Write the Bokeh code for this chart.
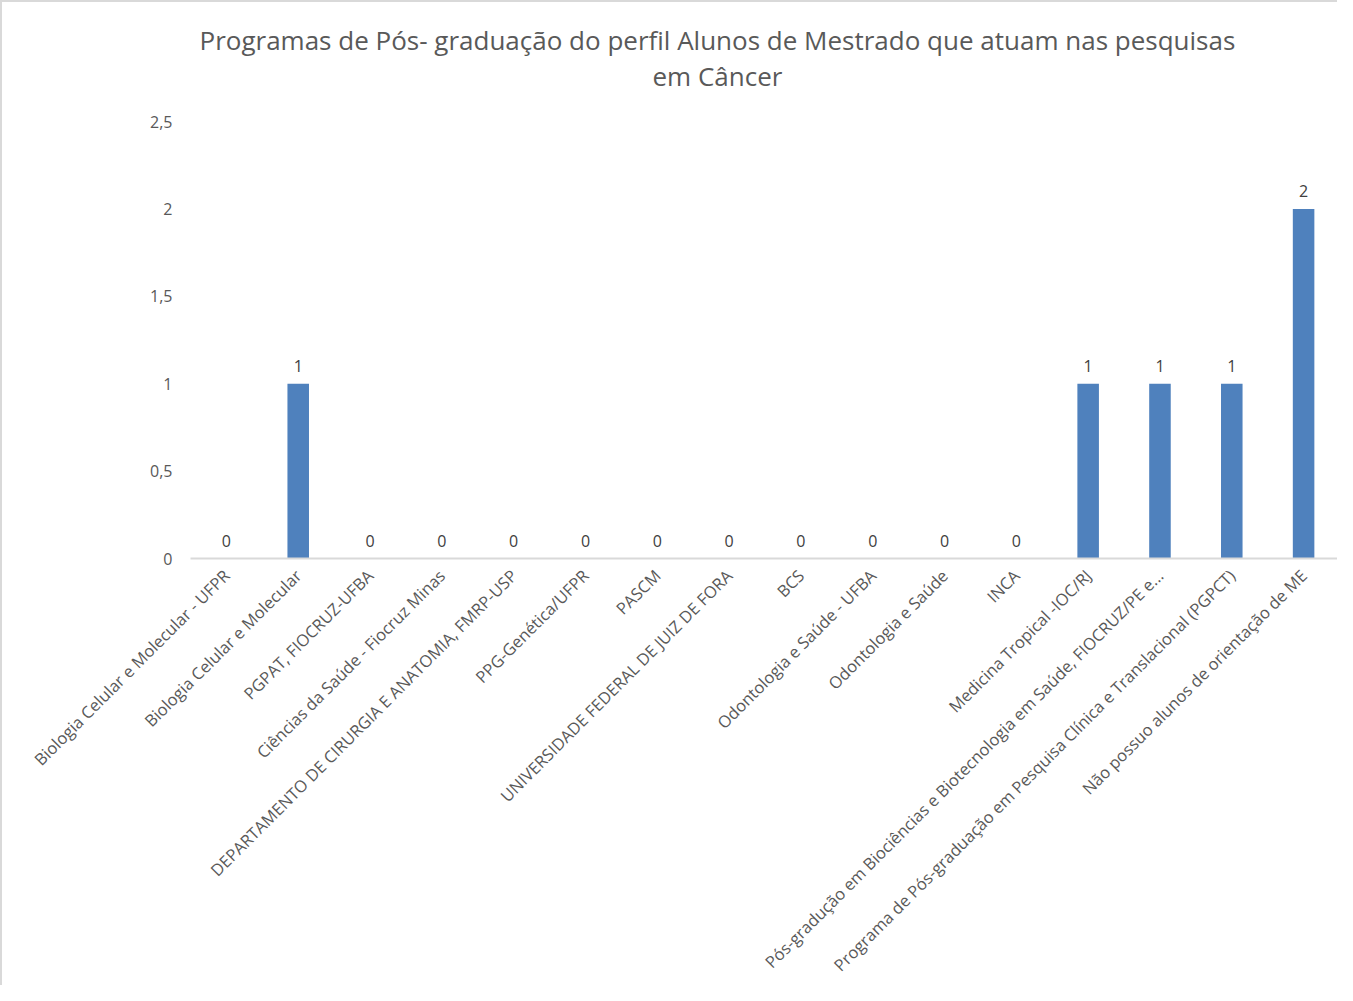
from math import pi
from bokeh.plotting import figure
from bokeh.models import ColumnDataSource, Title, FixedTicker
from bokeh.core.properties import value
from bokeh.embed import file_html
from bokeh.resources import INLINE

categories = [
    "Biologia Celular e Molecular - UFPR",
    "Biologia Celular e Molecular",
    "PGPAT, FIOCRUZ-UFBA",
    "Ciências da Saúde - Fiocruz Minas",
    "DEPARTAMENTO DE CIRURGIA E ANATOMIA, FMRP-USP",
    "PPG-Genética/UFPR",
    "PASCM",
    "UNIVERSIDADE FEDERAL DE JUIZ DE FORA",
    "BCS",
    "Odontologia e Saúde - UFBA",
    "Odontologia e Saúde",
    "INCA",
    "Medicina Tropical -IOC/RJ",
    "Pós-gradução em Biociências e Biotecnologia em Saúde, FIOCRUZ/PE e...",
    "Programa de Pós-graduação em Pesquisa Clínica e Translacional (PGPCT)",
    "Não possuo alunos de orientação de ME",
]
values = [0, 1, 0, 0, 0, 0, 0, 0, 0, 0, 0, 0, 1, 1, 1, 2]
y_ticks = [0, 0.5, 1, 1.5, 2, 2.5]
y_tick_labels = ["0", "0,5", "1", "1,5", "2", "2,5"]
title_lines = ["Programas de Pós- graduação do perfil Alunos de Mestrado que atuam nas pesquisas",
               "em Câncer"]

FONT = "Open Sans"
GRAY = "#595959"

src = ColumnDataSource(dict(cat=categories, val=values, lab=[str(v) for v in values]))

p = figure(x_range=categories, y_range=(0, 2.5), width=1337, height=985,
           output_backend="svg", toolbar_location=None,
           min_border_left=188, min_border_right=0, min_border_top=119, min_border_bottom=10)
p.title.text = ""
# spacer between plot area and title
p.add_layout(Title(text=" ", text_font_size="1px", standoff=26), "above")
p.add_layout(Title(text=title_lines[1], align="left", text_font=FONT, text_font_size="26px",
                   text_font_style="normal", text_color=GRAY, standoff=-3, offset=462), "above")
p.add_layout(Title(text=title_lines[0], align="left", text_font=FONT, text_font_size="26px",
                   text_font_style="normal", text_color=GRAY, standoff=0, offset=9), "above")

p.vbar(x="cat", top="val", width=0.3, source=src, fill_color="#4f81bd", line_color=None)
p.text(x="cat", y="val", text="lab", source=src, text_align="center", text_baseline="bottom",
       y_offset=-12, text_font=value(FONT), text_font_size="16px", text_color="#404040")

p.x_range.range_padding = 0
p.xgrid.grid_line_color = None
p.ygrid.grid_line_color = None
p.outline_line_color = None

p.xaxis.axis_line_color = "#d9d9d9"
p.xaxis.axis_line_width = 2
p.xaxis.major_tick_line_color = None
p.xaxis.minor_tick_line_color = None
p.xaxis.major_label_orientation = pi / 4
p.xaxis.major_label_text_font = FONT
p.xaxis.major_label_text_font_size = "16.5px"
p.xaxis.major_label_text_color = GRAY
p.xaxis.major_label_standoff = 8

p.yaxis.ticker = FixedTicker(ticks=y_ticks)
p.yaxis.major_label_overrides = {t: l for t, l in zip(y_ticks, y_tick_labels)}
p.yaxis.axis_line_color = None
p.yaxis.major_tick_line_color = None
p.yaxis.minor_tick_line_color = None
p.yaxis.major_label_text_font = FONT
p.yaxis.major_label_text_font_size = "16px"
p.yaxis.major_label_text_color = GRAY
p.yaxis.major_label_standoff = 12

p.styles = {"border-left": "2px solid #d9d9d9", "border-top": "2px solid #d9d9d9"}

open("out.html", "w").write(file_html(p, INLINE))
